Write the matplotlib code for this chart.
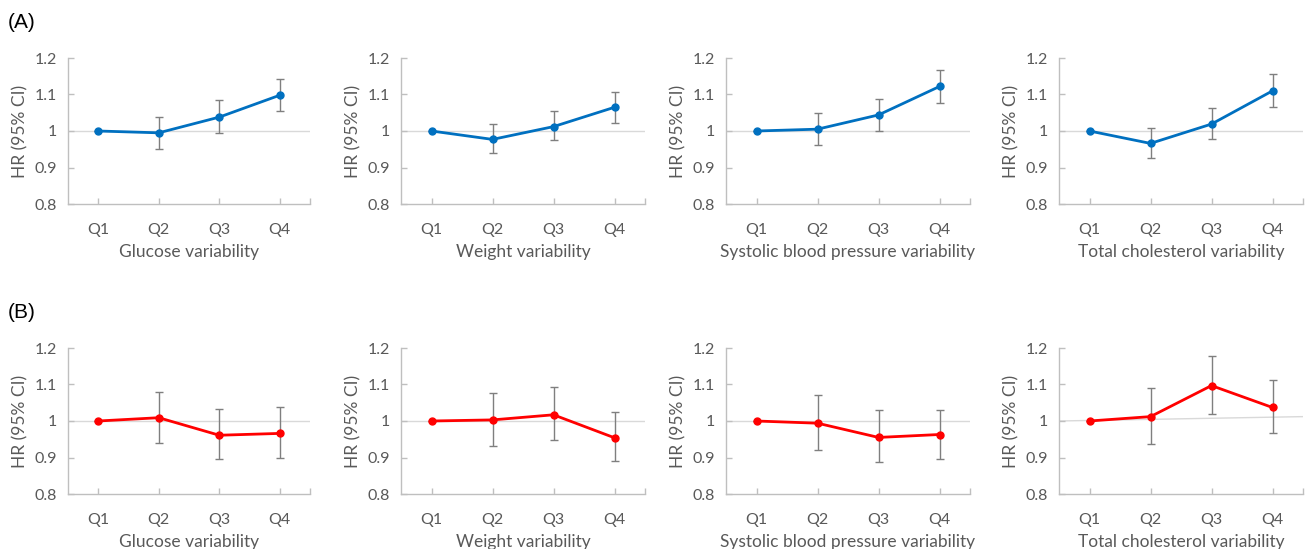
import matplotlib
matplotlib.use("Agg")
import matplotlib.pyplot as plt
import numpy as np

plt.rcParams['font.family'] = ['Lato', 'DejaVu Sans']

quartiles = ["Q1", "Q2", "Q3", "Q4"]
titles = ["Glucose variability", "Weight variability",
          "Systolic blood pressure variability", "Total cholesterol variability"]

# Row A (blue)
a_hr = [
    [1.0, 0.995, 1.038, 1.098],
    [1.0, 0.977, 1.012, 1.065],
    [1.0, 1.005, 1.044, 1.122],
    [1.0, 0.966, 1.019, 1.110],
]
a_lo = [
    [1.0, 0.951, 0.994, 1.054],
    [1.0, 0.939, 0.974, 1.023],
    [1.0, 0.961, 1.001, 1.078],
    [1.0, 0.925, 0.978, 1.067],
]
a_hi = [
    [1.0, 1.039, 1.084, 1.142],
    [1.0, 1.018, 1.054, 1.108],
    [1.0, 1.048, 1.087, 1.166],
    [1.0, 1.007, 1.062, 1.155],
]
# Row B (red)
b_hr = [
    [1.0, 1.009, 0.961, 0.966],
    [1.0, 1.003, 1.017, 0.954],
    [1.0, 0.994, 0.955, 0.963],
    [1.0, 1.012, 1.097, 1.037],
]
b_lo = [
    [1.0, 0.940, 0.896, 0.900],
    [1.0, 0.932, 0.947, 0.890],
    [1.0, 0.920, 0.887, 0.897],
    [1.0, 0.937, 1.019, 0.967],
]
b_hi = [
    [1.0, 1.080, 1.032, 1.038],
    [1.0, 1.078, 1.093, 1.025],
    [1.0, 1.071, 1.029, 1.031],
    [1.0, 1.090, 1.179, 1.113],
]
# reference line end values (last panel in row B is slightly tilted)
ref_left = [[1.0]*4, [1.0, 1.0, 1.0, 1.0]]
ref_right = [[1.0]*4, [1.0, 1.0, 1.0, 1.012]]

yticks = [0.8, 0.9, 1.0, 1.1, 1.2]
ytick_labels = ["0.8", "0.9", "1", "1.1", "1.2"]

W, H = 1306, 549
fig = plt.figure(figsize=(W/100, H/100), dpi=100)

lefts = [68, 401, 726, 1059]
rights = [310, 645, 970, 1303]
tops = [58, 348]
bottoms = [204, 494]
colors = ["#0070C0", "#FF0000"]
gray_txt = "#595959"
axis_col = "#BFBFBF"

rows = [(a_hr, a_lo, a_hi), (b_hr, b_lo, b_hi)]
x = np.arange(4)
for r, (hr, lo, hi) in enumerate(rows):
    for c in range(4):
        ax = fig.add_axes([lefts[c]/W, 1 - bottoms[r]/H,
                           (rights[c]-lefts[c])/W, (bottoms[r]-tops[r])/H])
        ax.set_xlim(-0.5, 3.5)
        ax.set_ylim(0.8, 1.2)
        ax.plot([-0.5, 3.5], [ref_left[r][c], ref_right[r][c]], color="#D9D9D9",
                lw=1.0, zorder=1)
        h = np.array(hr[c]); l = np.array(lo[c]); u = np.array(hi[c])
        ax.errorbar(x, h, yerr=[h - l, u - h], fmt='none', ecolor="#7F7F7F",
                    elinewidth=1.0, capsize=3, capthick=1.0, zorder=2)
        ax.plot(x, h, color=colors[r], lw=2.0, marker='o', markersize=5,
                zorder=3)
        for s in ["top", "right"]:
            ax.spines[s].set_visible(False)
        for s in ["left", "bottom"]:
            ax.spines[s].set_color(axis_col)
            ax.spines[s].set_linewidth(1.0)
        ax.set_yticks(yticks)
        ax.set_yticklabels(ytick_labels)
        ax.set_xticks(x)
        ax.set_xticklabels(quartiles)
        ax.set_xticks([3.5], minor=True)
        ax.tick_params(axis='both', which='both', direction='in', color=axis_col,
                       labelcolor=gray_txt, labelsize=11.5, length=4, width=1.0)
        ax.tick_params(axis='x', pad=14)
        ax.tick_params(axis='y', pad=8)
        ax.set_xlabel(titles[c], color=gray_txt, fontsize=12.5, labelpad=5)
        ax.set_ylabel("HR (95% CI)", color=gray_txt, fontsize=12.5, labelpad=4)

fig.text(8/W, 1 - 22/H, "(A)", fontsize=15, color="black", va="center", ha="left",
         family="Liberation Sans")
fig.text(8/W, 1 - 313/H, "(B)", fontsize=15, color="black", va="center", ha="left",
         family="Liberation Sans")

fig.savefig("out.png", dpi=100)
